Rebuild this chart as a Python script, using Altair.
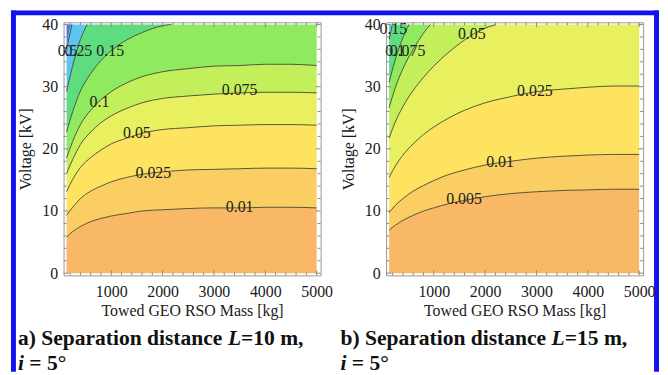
import altair as alt
import numpy as np
import pandas as pd

SERIF = "Liberation Serif"
TOP = 40.0
CAP = 21.7

# sample masses (kg) along which contour voltages were read
mass = [130, 250, 400, 600, 800, 1000, 1300, 1600, 2000, 2500, 3000, 3500, 4000, 4500, 5000]

# ---------------- panel a : L = 10 m ----------------
a_levels = ["0.01", "0.025", "0.05", "0.075", "0.1", "0.15", "0.25", "0.5"]
a_v0010 = [5.8, 6.7, 7.5, 8.3, 8.8, 9.2, 9.6, 10.0, 10.2, 10.4, 10.5, 10.5, 10.6, 10.6, 10.5]
a_v0025 = [9.3, 10.6, 12.0, 13.2, 14.0, 14.7, 15.4, 15.9, 16.3, 16.6, 16.7, 16.8, 16.9, 16.9, 16.8]
a_v0050 = [13.1, 15.1, 17.0, 18.6, 19.8, 20.8, 21.7, 22.5, 23.1, 23.4, 23.7, 23.8, 23.9, 23.9, 23.8]
a_v0075 = [16.0, 18.3, 20.7, 22.7, 24.2, 25.3, 26.5, 27.4, 28.1, 28.5, 28.8, 29.0, 29.1, 29.1, 29.0]
a_v0100 = [18.5, 21.2, 23.9, 26.2, 27.9, 29.2, 30.6, 31.6, 32.4, 32.9, 33.3, 33.4, 33.6, 33.6, 33.4]
a_v0150 = [22.7, 26.0, 29.3, 32.1, 34.2, 35.8, 37.5, 38.7, 39.8, 40.4]
a_v0250 = [29.2, 33.4, 37.6, 41.3]
a_v0500 = [36.0, 40.6]
a_lines = [a_v0010, a_v0025, a_v0050, a_v0075, a_v0100, a_v0150, a_v0250, a_v0500]
a_colors = ["#F8B865", "#FBCE64", "#FDE35F", "#E9F060", "#C3EF5B", "#8FEA5F",
            "#5EDC80", "#5DC6F0", "#4F7BE0"]
a_lab_text = ["0.5", "0.25", "0.15", "0.1", "0.075", "0.05", "0.025", "0.01"]
a_lab_mass = [150, 360, 980, 770, 3500, 1500, 1820, 3500]
a_lab_volt = [35.8, 35.8, 35.8, 27.5, 29.5, 22.5, 16.1, 10.6]

# ---------------- panel b : L = 15 m ----------------
b_levels = ["0.005", "0.01", "0.025", "0.05", "0.075", "0.1", "0.15"]
b_v0005 = [6.9, 7.7, 8.5, 9.3, 10.0, 10.5, 11.2, 11.7, 12.3, 12.8, 13.1, 13.3, 13.4, 13.5, 13.5]
b_v0010 = [9.7, 10.9, 12.0, 13.2, 14.1, 14.9, 15.9, 16.6, 17.4, 18.0, 18.5, 18.8, 19.0, 19.1, 19.1]
b_v0025 = [15.4, 17.2, 19.0, 20.8, 22.3, 23.5, 25.0, 26.2, 27.4, 28.4, 29.2, 29.6, 29.9, 30.1, 30.1]
b_v0050 = [21.7, 24.3, 26.8, 29.4, 31.5, 33.3, 35.6, 37.5, 39.4, 40.8]
b_v0075 = [26.6, 29.8, 32.9, 36.0, 38.6, 40.7]
b_v0100 = [30.7, 34.3, 37.9, 41.5]
b_v0150 = [37.6, 42.1]
b_lines = [b_v0005, b_v0010, b_v0025, b_v0050, b_v0075, b_v0100, b_v0150]
b_colors = ["#F8B865", "#F9C065", "#FBCC63", "#FDE25F", "#F1EE60", "#D5F05C",
            "#B5EE5A", "#8EE860"]
b_lab_text = ["0.15", "0.1", "0.075", "0.05", "0.025", "0.01", "0.005"]
b_lab_mass = [213, 250, 490, 1740, 2970, 2290, 1590]
b_lab_volt = [39.2, 35.8, 35.8, 38.4, 29.3, 17.9, 11.9]

# axis ticks
x_major = [1000, 2000, 3000, 4000, 5000]
x_minor = [200, 400, 600, 800, 1200, 1400, 1600, 1800, 2200, 2400, 2600, 2800,
           3200, 3400, 3600, 3800, 4200, 4400, 4600, 4800]
y_major = [0, 10, 20, 30, 40]
y_minor = [2, 4, 6, 8, 12, 14, 16, 18, 22, 24, 26, 28, 32, 34, 36, 38]

W, H = 259, 255


def geometry(levels, lines):
    polylines = []
    for lev, vals in zip(levels, lines):
        xs = mass[:len(vals)]
        pts = []
        for k, v in enumerate(vals):
            if v <= TOP:
                pts.append((xs[k], v))
            else:
                m0, v0 = xs[k - 1], vals[k - 1]
                m1 = xs[k]
                pts.append((m0 + (m1 - m0) * (TOP - v0) / (v - v0), TOP))
                break
        polylines.append((lev, pts))
    grid = sorted(set(mass) | {p[-1][0] for _, p in polylines})

    def value_at(pts, m):
        ms = [p[0] for p in pts]
        vs = [p[1] for p in pts]
        if m > ms[-1]:
            return TOP
        return float(np.interp(m, ms, vs))

    line_rows = [dict(level=lev, m=m, v=v) for lev, pts in polylines for m, v in pts]
    bounds = [[0.0] * len(grid)]
    bounds += [[value_at(pts, m) for m in grid] for _, pts in polylines]
    bounds += [[TOP] * len(grid)]
    band_rows = []
    names = []
    for b in range(len(bounds) - 1):
        names.append(f"band{b}")
        for i, m in enumerate(grid):
            band_rows.append(dict(band=f"band{b}", m=m, lo=bounds[b][i], hi=bounds[b + 1][i]))
    return pd.DataFrame(line_rows), pd.DataFrame(band_rows), names


xsc = alt.Scale(domain=[72, 5077], nice=False, zero=False)
ysc = alt.Scale(domain=[-0.35, 40.35], nice=False, zero=False)
axis_common = dict(tickSize=0, domain=False, grid=False, labelFont=SERIF, labelFontSize=16,
                   labelColor="#1a1a1a", titleFont=SERIF, titleFontSize=16,
                   titleFontWeight="normal", titleColor="#1a1a1a")
X_AXIS = alt.Axis(values=x_major, format="d", title="Towed GEO RSO Mass [kg]",
                  labelPadding=8, titlePadding=3, **axis_common)
Y_AXIS = alt.Axis(values=y_major, format="d", title="Voltage [kV]", labelPadding=6,
                  titlePadding=8, **axis_common)


def XE(field):
    return alt.X(field, scale=xsc, axis=X_AXIS)


def YE(field, **kw):
    return alt.Y(field, scale=ysc, axis=Y_AXIS, **kw)


dummy = pd.DataFrame({"k": [0]})


def tick_rules(values, field, pos0, pos1):
    df = pd.DataFrame({field: values})
    enc = {}
    if field == "m":
        enc["x"] = XE("m:Q")
        enc["y"] = alt.value(pos0)
        enc["y2"] = alt.value(pos1)
    else:
        enc["y"] = YE("v:Q")
        enc["x"] = alt.value(pos0)
        enc["x2"] = alt.value(pos1)
    return alt.Chart(df).mark_rule(color="#8a8a8a", strokeWidth=1).encode(**enc)


def text_piece(txt, x, y, italic=False):
    return alt.Chart(dummy).mark_text(
        text=txt, font=SERIF, fontSize=CAP, fontWeight="bold",
        fontStyle="italic" if italic else "normal", align="left",
        baseline="alphabetic", color="#111"
    ).encode(x=alt.value(x), y=alt.value(y))


def panel(levels, lines, colors, lab_t, lab_m, lab_v, caption, num, first_em, extra):
    lines_df, bands_df, names = geometry(levels, lines)
    areas = alt.Chart(bands_df).mark_area(interpolate="monotone").encode(
        x=XE("m:Q"),
        y=YE("lo:Q", stack=None),
        y2="hi:Q",
        color=alt.Color("band:N", scale=alt.Scale(domain=names, range=colors), legend=None),
    )
    clines = alt.Chart(lines_df).mark_line(
        interpolate="monotone", color="#45452f", strokeWidth=1, opacity=0.9
    ).encode(
        x=XE("m:Q"),
        y=YE("v:Q"),
        detail="level:N",
    )
    lab_df = pd.DataFrame({"t": lab_t, "m": lab_m, "v": lab_v})
    labels = alt.Chart(lab_df).mark_text(font=SERIF, fontSize=16, color="#222").encode(
        x=XE("m:Q"),
        y=YE("v:Q"),
        text="t:N",
    )
    ticks = [
        tick_rules(x_major, "m", H, H - 5), tick_rules(x_minor, "m", H, H - 3),
        tick_rules(x_major, "m", 0, 5), tick_rules(x_minor, "m", 0, 3),
        tick_rules(y_major, "v", 0, 5), tick_rules(y_minor, "v", 0, 3),
        tick_rules(y_major, "v", W, W - 5), tick_rules(y_minor, "v", W, W - 3),
    ]
    x0 = -46
    xl = x0 + first_em * CAP
    cap = [
        text_piece(caption, x0, 325),
        text_piece("L", xl, 325, italic=True),
        text_piece("=" + num + " m,", xl + 0.611 * CAP, 325),
        text_piece("i", x0, 350, italic=True),
        text_piece("= 5°", x0 + 0.528 * CAP, 350),
    ]
    return alt.layer(areas, clines, labels, *ticks, *cap, *extra).properties(width=W, height=H)


blue = "#1212EE"
borders = [
    alt.Chart(dummy).mark_rect(color=blue).encode(
        x=alt.value(-53), x2=alt.value(-48), y=alt.value(-12), y2=alt.value(352)),
    alt.Chart(dummy).mark_rect(color=blue).encode(
        x=alt.value(-53), x2=alt.value(600), y=alt.value(-12), y2=alt.value(-7)),
    alt.Chart(dummy).mark_rect(color=blue).encode(
        x=alt.value(595), x2=alt.value(600), y=alt.value(-12), y2=alt.value(352)),
]

pa = panel(a_levels, a_lines, a_colors, a_lab_text, a_lab_mass, a_lab_volt,
           "a) Separation distance ", "10", 9.75, borders)
pb = panel(b_levels, b_lines, b_colors, b_lab_text, b_lab_mass, b_lab_volt,
           "b) Separation distance ", "15", 9.806, [])

chart = alt.hconcat(pa, pb, spacing=66, bounds="flush").properties(
    padding={"left": 2, "top": 0, "right": 0, "bottom": 0},
    background="white",
).configure_view(stroke="#999999", strokeWidth=1)

chart.save("out.html", embed_options={"renderer": "svg", "actions": False})
